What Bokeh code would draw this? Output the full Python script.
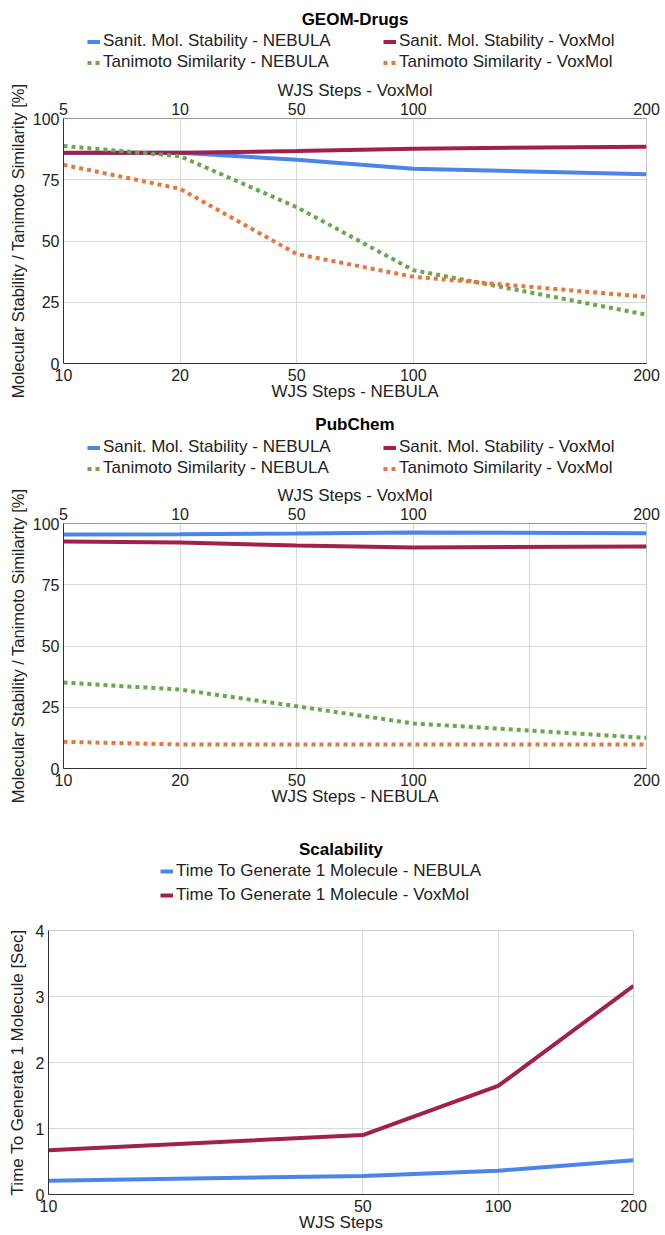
from bokeh.plotting import figure
from bokeh.models import (Range1d, LinearAxis, FixedTicker, Legend, LegendItem,
                          Title, BasicTickFormatter)
from bokeh.embed import file_html
from bokeh.resources import INLINE

# ---------------- data ----------------
slots = ["10", "20", "50", "100", "", "200"]        # bottom axis slots (WJS Steps - NEBULA)
top_slots = ["5", "10", "50", "100", "", "200"]     # top axis slots (WJS Steps - VoxMol)
nebula_steps = [10, 20, 50, 100, 200]
voxmol_steps = [5, 10, 50, 100, 200]

geom_stab_nebula = [85.9, 86.0, 83.2, 79.5, 77.2]
geom_stab_voxmol = [86.0, 86.0, 86.7, 87.7, 88.5]
geom_tani_nebula = [88.8, 84.6, 63.8, 38.1, 19.9]
geom_tani_voxmol = [81.1, 71.3, 44.7, 35.4, 27.2]

pub_stab_nebula = [95.5, 95.6, 95.9, 96.3, 96.0]
pub_stab_voxmol = [92.7, 92.2, 91.0, 90.2, 90.6]
pub_tani_nebula = [35.1, 32.2, 25.4, 18.4, 12.5]
pub_tani_voxmol = [10.9, 9.8, 9.8, 9.8, 9.8]

scal_steps = [10, 50, 100, 200]
time_nebula = [0.21, 0.28, 0.36, 0.52]
time_voxmol = [0.67, 0.90, 1.645, 3.16]

pct_ticks = [0, 25, 50, 75, 100]
sec_ticks = [0, 1, 2, 3, 4]

pct_labels = ["Sanit. Mol. Stability - NEBULA", "Sanit. Mol. Stability - VoxMol",
              "Tanimoto Similarity - NEBULA", "Tanimoto Similarity - VoxMol"]
time_labels = ["Time To Generate 1 Molecule - NEBULA",
               "Time To Generate 1 Molecule - VoxMol"]

# ---------------- style ----------------
FONT = "Liberation Sans"
BLUE = "#4a86e8"
MAROON = "#a2214c"
GREEN = "#6aa84f"
ORANGE = "#e6773f"
GRID = "#d9d9d9"
AXIS = "#333333"
TXT = "#222222"
W = 665
SOLID = dict(line_width=4)
DOTTED = dict(line_width=4, line_dash="4 4")
pct_styles = [(BLUE, SOLID), (MAROON, SOLID), (GREEN, DOTTED), (ORANGE, DOTTED)]
time_styles = [(BLUE, SOLID), (MAROON, SOLID)]

nx = [slots.index(str(s)) for s in nebula_steps]
vx = [top_slots.index(str(s)) for s in voxmol_steps]


def style_axis(ax, tick_size="16px", label_size="17px"):
    ax.major_label_text_font = FONT
    ax.major_label_text_font_size = tick_size
    ax.major_label_text_color = TXT
    ax.axis_label_text_font = FONT
    ax.axis_label_text_font_size = label_size
    ax.axis_label_text_font_style = "normal"
    ax.axis_label_text_color = TXT
    ax.major_tick_line_color = None
    ax.minor_tick_line_color = None
    ax.major_tick_out = 0
    ax.major_tick_in = 0
    ax.minor_tick_out = 0
    ax.minor_tick_in = 0
    ax.axis_line_color = AXIS


def header(title, labels, styles, xs_list, ys_list, height, top_b, left_b, right_b,
           leg_x, leg_y, ncols, label_w, row_h):
    """Title + legend strip drawn above a chart (series kept out of view)."""
    h = figure(width=W, height=height, output_backend="svg", toolbar_location=None,
               x_range=Range1d(0, 1), y_range=Range1d(-2, -1),
               x_axis_location=None, y_axis_location=None,
               min_border_left=left_b, min_border_right=right_b,
               min_border_top=top_b, min_border_bottom=0)
    h.outline_line_color = None
    h.xgrid.visible = False
    h.ygrid.visible = False
    items = []
    for lab, (col, st), xs, ys in zip(labels, styles, xs_list, ys_list):
        r = h.line(xs, ys, line_color=col, **st)
        items.append(LegendItem(label=lab, renderers=[r]))
    leg = Legend(items=items, location=(leg_x, leg_y), orientation="horizontal",
                 ncols=ncols, glyph_width=13, glyph_height=row_h, label_height=row_h,
                 label_width=label_w, label_standoff=3, spacing=0, padding=0,
                 margin=0, border_line_color=None, background_fill_alpha=0,
                 label_text_font=FONT, label_text_font_size="17px",
                 label_text_color=TXT)
    h.add_layout(leg)
    h.add_layout(Title(text=title, align="center", text_font=FONT,
                       text_font_size="17px", text_font_style="bold",
                       text_color="#000000", standoff=0), "above")
    return h


def pct_panel(series, grid_all, height, top_b, frame_h):
    p = figure(width=W, height=height, output_backend="svg", toolbar_location=None,
               x_range=Range1d(0, len(slots) - 1), y_range=Range1d(0, 100),
               min_border_left=63, min_border_right=19, min_border_top=top_b,
               min_border_bottom=height - top_b - frame_h)
    p.outline_line_color = "#cccccc"

    for xs, ys, (col, st) in zip([nx, vx, nx, vx], series, pct_styles):
        p.line(xs, ys, line_color=col, **st)

    bt = [i for i, s in enumerate(slots) if s]
    gt = list(range(len(slots))) if grid_all else bt
    p.xaxis.ticker = FixedTicker(ticks=bt)
    p.xaxis.major_label_overrides = {i: slots[i] for i in bt}
    p.xaxis.axis_label = "WJS Steps - NEBULA"
    p.xgrid.ticker = FixedTicker(ticks=gt)
    p.yaxis.ticker = FixedTicker(ticks=pct_ticks)
    p.ygrid.ticker = FixedTicker(ticks=pct_ticks)
    p.yaxis.axis_label = "Molecular Stability / Tanimoto Similarity [%]"
    for ax in p.xaxis:
        style_axis(ax)
    for ax in p.yaxis:
        style_axis(ax, label_size="16.5px")
    p.xaxis.major_label_standoff = 5
    p.xaxis.axis_label_standoff = -2
    p.yaxis.major_label_standoff = 4
    p.yaxis.axis_label_standoff = 3
    p.xgrid.grid_line_color = GRID
    p.ygrid.grid_line_color = GRID

    tt = [i for i, s in enumerate(top_slots) if s]
    top = LinearAxis(ticker=FixedTicker(ticks=tt),
                     major_label_overrides={i: top_slots[i] for i in tt},
                     axis_label="WJS Steps - VoxMol")
    style_axis(top)
    top.axis_line_color = "#999999"
    top.major_label_standoff = 4
    top.axis_label_standoff = 0
    p.add_layout(top, "above")
    return p


geom_series = [geom_stab_nebula, geom_stab_voxmol, geom_tani_nebula, geom_tani_voxmol]
pub_series = [pub_stab_nebula, pub_stab_voxmol, pub_tani_nebula, pub_tani_voxmol]

h1 = header("GEOM-Drugs", pct_labels, pct_styles, [nx, vx, nx, vx], geom_series,
            76, 28, 63, 19, 24, 3.5, 2, 280, 21)
p1 = pct_panel(geom_series, False, 327, 42, 245)
h2 = header("PubChem", pct_labels, pct_styles, [nx, vx, nx, vx], pub_series,
            78, 30, 63, 19, 24, 2.5, 2, 280, 21)
p2 = pct_panel(pub_series, True, 327, 42, 246)
h3 = header("Scalability", time_labels, time_styles, [scal_steps, scal_steps],
            [time_nebula, time_voxmol], 104, 50, 48, 32, 112, 5, 1, 10, 24)

# ---------------- scalability ----------------
H3, T3, F3 = 323, 18, 264
p3 = figure(width=W, height=H3, output_backend="svg", toolbar_location=None,
            x_axis_type="log", x_range=Range1d(10, 200), y_range=Range1d(0, 4),
            min_border_left=48, min_border_right=32, min_border_top=T3,
            min_border_bottom=H3 - T3 - F3)
p3.outline_line_color = "#cccccc"
for ys, (col, st) in zip([time_nebula, time_voxmol], time_styles):
    p3.line(scal_steps, ys, line_color=col, **st)
p3.xaxis.ticker = FixedTicker(ticks=scal_steps)
p3.xaxis.formatter = BasicTickFormatter()
p3.xgrid.ticker = FixedTicker(ticks=scal_steps)
p3.xaxis.axis_label = "WJS Steps"
p3.yaxis.ticker = FixedTicker(ticks=sec_ticks)
p3.ygrid.ticker = FixedTicker(ticks=sec_ticks)
p3.yaxis.axis_label = "Time To Generate 1 Molecule [Sec]"
for ax in p3.xaxis + p3.yaxis:
    style_axis(ax)
p3.xaxis.major_label_standoff = 5
p3.xaxis.axis_label_standoff = -2
p3.yaxis.major_label_standoff = 4
p3.yaxis.axis_label_standoff = 6
p3.xgrid.grid_line_color = GRID
p3.ygrid.grid_line_color = GRID

# separate roots, so that each figure keeps its own frame borders
p = [h1, p1, h2, p2, h3, p3]
open("out.html", "w").write(file_html(p, INLINE))
